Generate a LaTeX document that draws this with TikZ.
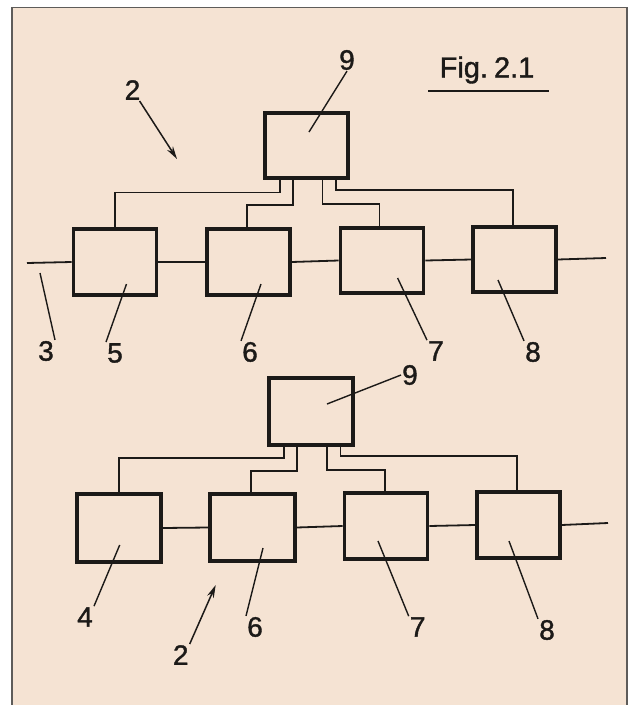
\documentclass[tikz,border=0pt]{standalone}
\usepackage{fontspec}
\setmainfont{Liberation Sans}
\newfontfamily\lblfont[FakeBold=1.3]{Liberation Sans}
\usetikzlibrary{arrows.meta}
\definecolor{paper}{HTML}{F5E3D3}
\definecolor{ink}{HTML}{1C1A18}
\definecolor{frame}{HTML}{5E5C5A}
\tikzset{
  blk/.style={draw=ink, line width=3.4pt, inner sep=0pt},
  wire/.style={draw=ink, line width=1.8pt},
  leader/.style={draw=ink, line width=1.4pt},
  pointer/.style={draw=ink, line width=1.5pt, -{Stealth[length=13pt,width=7pt]}},
  lbl/.style={font=\lblfont\fontsize{28}{28}\selectfont, text=ink, inner sep=1pt}
}
\begin{document}
\begin{tikzpicture}[x=1pt,y=-1pt]
\useasboundingbox (0,0) rectangle (629,705);
\fill[white] (0,0) rectangle (629,705);
\fill[paper] (12,7.5) rectangle (627,705);
\draw[frame, line width=1.8pt] (12,705) -- (12,7.5) -- (627,7.5) -- (627,705);

% ---------- upper diagram ----------
\node[blk, minimum width=83pt, minimum height=65pt] (9T) at (306.5,145.5) {};
\node[blk, minimum width=83.5pt, minimum height=66pt] (5) at (115,262) {};
\node[blk, minimum width=83pt, minimum height=66pt] (6T) at (248.5,262) {};
\node[blk, minimum width=83.5pt, minimum height=65pt] (7T) at (382,260.5) {};
\node[blk, minimum width=83pt, minimum height=65pt] (8T) at (514.5,259.5) {};

\coordinate (inT) at (27,263);
\coordinate (outT) at (606,258);
\draw[wire] (inT) -- (5.west);
\draw[wire] (5.east) -- (6T.west);
\draw[wire] (6T.east) -- (7T.west);
\draw[wire] (7T.east) -- (8T.west);
\draw[wire] (8T.east) -- (outT);

\draw[wire] ([xshift=-26.5pt]9T.south) -- ++(0,12.7) -| (5.north);
\draw[wire] ([xshift=-13.5pt]9T.south) -- ++(0,25) -| ([xshift=-1.5pt]6T.north);
\draw[wire] ([xshift=16pt]9T.south) -- ++(0,24) -| ([xshift=-2.5pt]7T.north);
\draw[wire] ([xshift=29.5pt]9T.south) -- ++(0,10) -| ([xshift=-1.5pt]8T.north);

\node[lbl] (L9T) at (347,60) {9};
\node[lbl] (L2T) at (132.5,90) {2};
\node[lbl] (L3) at (46,351) {3};
\node[lbl] (L5) at (115,353) {5};
\node[lbl] (L6T) at (250,352) {6};
\node[lbl] (L7T) at (436,351) {7};
\node[lbl] (L8T) at (533,352) {8};
\node[lbl, font=\lblfont\fontsize{29}{29}\selectfont] (fig) at (487,70) {Fig.\hspace{6pt}2.1};
\coordinate (ulA) at (428,91);
\coordinate (ulB) at (549,91);
\draw[ink, line width=2.6pt] (ulA) -- (ulB);

\coordinate (c9T) at (309,132);
\coordinate (a2T) at (177,159);
\coordinate (c3) at (40,273);
\coordinate (c5) at (126.5,284);
\coordinate (c6T) at (261,284);
\coordinate (c7T) at (397.6,278);
\coordinate (c8T) at (498,280);
\draw[leader] (L9T.south) -- (c9T);
\draw[pointer] (L2T) -- (a2T);
\draw[leader] (L3.north east) -- (c3);
\draw[leader] (L5.north west) -- (c5);
\draw[leader] (L6T.north west) -- (c6T);
\draw[leader] (L7T.north west) -- (c7T);
\draw[leader] (L8T.north west) -- (c8T);

% ---------- lower diagram ----------
\node[blk, minimum width=84pt, minimum height=67pt] (9B) at (311,411.5) {};
\node[blk, minimum width=84pt, minimum height=68pt] (4) at (119,528) {};
\node[blk, minimum width=85pt, minimum height=67pt] (6B) at (252.5,527.5) {};
\node[blk, minimum width=83.5pt, minimum height=66pt] (7B) at (386,526) {};
\node[blk, minimum width=83pt, minimum height=66pt] (8B) at (518.5,525) {};

\coordinate (outB) at (608,523);
\draw[wire] (4.east) -- (6B.west);
\draw[wire] (6B.east) -- (7B.west);
\draw[wire] (7B.east) -- (8B.west);
\draw[wire] (8B.east) -- (outB);

\draw[wire] ([xshift=-27pt]9B.south) -- ++(0,11) -| (4.north);
\draw[wire] ([xshift=-14pt]9B.south) -- ++(0,24) -| ([xshift=-1.5pt]6B.north);
\draw[wire] ([xshift=16pt]9B.south) -- ++(0,23) -| ([xshift=-1pt]7B.north);
\draw[wire] ([xshift=29.5pt]9B.south) -- ++(0,9) -| ([xshift=-1.5pt]8B.north);

\node[lbl] (L9B) at (410,375) {9};
\node[lbl] (L4) at (85,617) {4};
\node[lbl] (L6B) at (255,627) {6};
\node[lbl] (L7B) at (417.7,627) {7};
\node[lbl] (L8B) at (547,630) {8};
\node[lbl] (L2B) at (180.7,655) {2};

\coordinate (c9B) at (327,404);
\coordinate (c4) at (119.7,545);
\coordinate (c6B) at (263,548);
\coordinate (c7B) at (378,541);
\coordinate (c8B) at (509,541);
\coordinate (a2B) at (215.7,585);
\draw[leader] (L9B.west) -- (c9B);
\draw[leader] (L4.north east) -- (c4);
\draw[leader] (L6B.north west) -- (c6B);
\draw[leader] (L7B.north west) -- (c7B);
\draw[leader] (L8B.north west) -- (c8B);
\draw[pointer] (L2B.north east) -- (a2B);
\end{tikzpicture}
\end{document}
